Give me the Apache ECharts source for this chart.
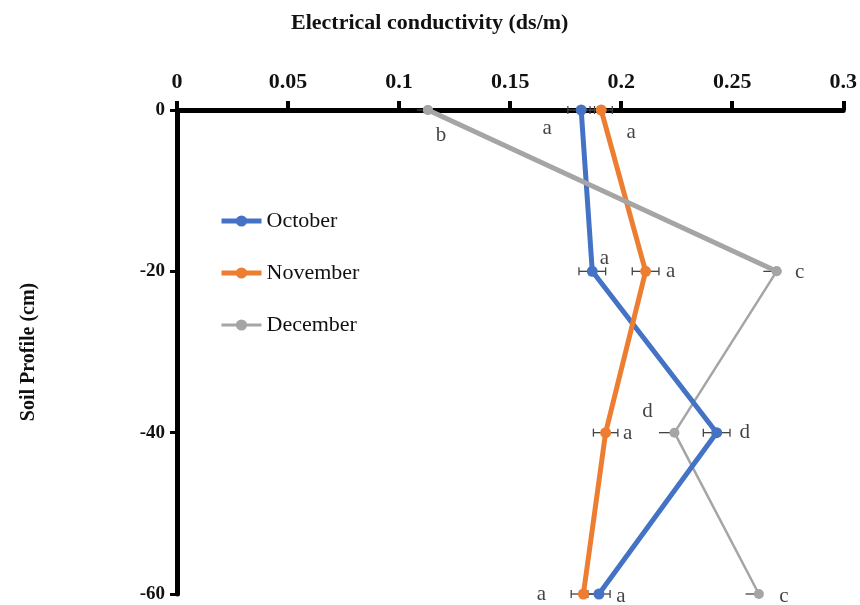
<!DOCTYPE html>
<html><head><meta charset="utf-8">
<script src="https://cdn.jsdelivr.net/npm/echarts@6/dist/echarts.min.js"></script>
<style>html,body{margin:0;padding:0;background:#fff}#c{width:860px;height:605px}</style>
</head><body><div id="c"></div>
<script>
const depths = [0, -20, -40, -60];
const xTicks = [0, 0.05, 0.1, 0.15, 0.2, 0.25, 0.3];
const october = [0.182, 0.187, 0.243, 0.190];
const november = [0.191, 0.211, 0.193, 0.183];
const december = [0.113, 0.270, 0.224, 0.262];
const octErr = [0.006, 0.006, 0.006, 0.005];
const novErr = [0.005, 0.006, 0.0055, 0.0055];
const decErr = [0.005, 0.006, 0.007, 0.006];
const octLetters = ['a', 'a', 'd', 'a'];
const novLetters = ['a', 'a', 'a', 'a'];
const decLetters = ['b', 'c', 'd', 'c'];

const BLUE = '#4472C4', ORANGE = '#ED7D31', GRAY = '#A5A5A5';
const FONT = '"Liberation Serif", "Times New Roman", serif';

function pts(vals){ return vals.map((v,i)=>[v, depths[i]]); }
function errPts(vals, errs){ return vals.map((v,i)=>[v, depths[i], errs[i]]); }

function errSeries(vals, errs, caps, leftOnly){
  return {
    type:'custom', silent:true, z:1,
    data: errPts(vals, errs),
    renderItem: function(params, api){
      const x=api.value(0), y=api.value(1), e=api.value(2);
      const c=api.coord([x,y]), l=api.coord([x-e,y]), r=api.coord([x+e,y]);
      const st={stroke:'#444', lineWidth:1.3};
      const ch=[];
      ch.push({type:'line', shape:{x1:l[0],y1:l[1],x2:leftOnly?c[0]:r[0],y2:r[1]}, style:st});
      if(caps){
        ch.push({type:'line', shape:{x1:l[0],y1:l[1]-4,x2:l[0],y2:l[1]+4}, style:st});
        ch.push({type:'line', shape:{x1:r[0],y1:r[1]-4,x2:r[0],y2:r[1]+4}, style:st});
      }
      return {type:'group', children:ch};
    }
  };
}

// letter offsets [dx, dy] (style only)
const octOff = [[-34,18],[12,-13],[28,0],[22,2]];
const novOff = [[30,22],[25,0],[22,1],[-42,0]];
const decOff = [[13,25],[23,1],[-27,-21],[25,2]];

function letterSeries(vals, letters, offs){
  return {
    type:'scatter', silent:true, symbolSize:0, z:5,
    data: vals.map((v,i)=>({value:[v, depths[i]], label:{show:true, formatter:letters[i], offset:offs[i]}})),
    label:{position:'inside', color:'#111', fontFamily:FONT, fontSize:21},
  };
}

const chart = echarts.init(document.getElementById('c'));
chart.setOption({
  animation:false,
  backgroundColor:'#fff',
  title:{text:'Electrical conductivity (ds/m)', left:286, top:7,
    textStyle:{fontFamily:FONT, fontWeight:'bold', fontSize:22, color:'#111'}},
  legend:{
    orient:'vertical', left:214, top:205, itemGap:30, itemWidth:40, itemHeight:14,
    data:[
      {name:'October', lineStyle:{width:5}},
      {name:'November', lineStyle:{width:5}},
      {name:'December', lineStyle:{width:3}}
    ],
    textStyle:{fontFamily:FONT, fontSize:22, color:'#111'}
  },
  grid:{left:177, right:15, top:110, bottom:11, containLabel:false},
  xAxis:{
    type:'value', position:'top', min:0, max:0.3, interval:0.05,
    axisLine:{show:true, onZero:false, lineStyle:{color:'#000', width:5}},
    axisTick:{show:true, length:9, lineStyle:{color:'#000', width:4}},
    axisLabel:{margin:17, fontFamily:FONT, fontWeight:'bold', fontSize:22, color:'#111',
      formatter:function(v){ const t=xTicks.find(k=>Math.abs(k-v)<1e-9); return t===undefined?'':String(t); }},
    splitLine:{show:false}
  },
  yAxis:{
    type:'value', min:-60, max:0, interval:20,
    name:'Soil Profile (cm)', nameLocation:'middle', nameGap:138,
    nameTextStyle:{fontFamily:FONT, fontWeight:'bold', fontSize:20, color:'#111'},
    axisLine:{show:true, onZero:false, lineStyle:{color:'#000', width:5}},
    axisTick:{show:true, length:7, lineStyle:{color:'#000', width:3}},
    axisLabel:{margin:12, fontFamily:FONT, fontWeight:'bold', fontSize:19, color:'#111'},
    splitLine:{show:false}
  },
  series:[
    errSeries(october, octErr, true, false),
    errSeries(november, novErr, true, false),
    errSeries(december, decErr, false, true),
    {name:'October', type:'line', data:pts(october), z:3, symbol:'circle', symbolSize:11,
      lineStyle:{color:BLUE, width:5}, itemStyle:{color:BLUE}},
    {name:'November', type:'line', data:pts(november), z:3, symbol:'circle', symbolSize:11,
      lineStyle:{color:ORANGE, width:5}, itemStyle:{color:ORANGE}},
    {name:'December', type:'line', data:pts(december), z:2, symbol:'circle', symbolSize:10,
      lineStyle:{color:GRAY, width:2.5}, itemStyle:{color:GRAY}},
    {name:'December-top', type:'line', data:pts(december).slice(0,2), z:4, symbol:'circle', symbolSize:10,
      lineStyle:{color:GRAY, width:5}, itemStyle:{color:GRAY}},
    letterSeries(october, octLetters, octOff),
    letterSeries(november, novLetters, novOff),
    letterSeries(december, decLetters, decOff)
  ]
});
</script></body></html>
